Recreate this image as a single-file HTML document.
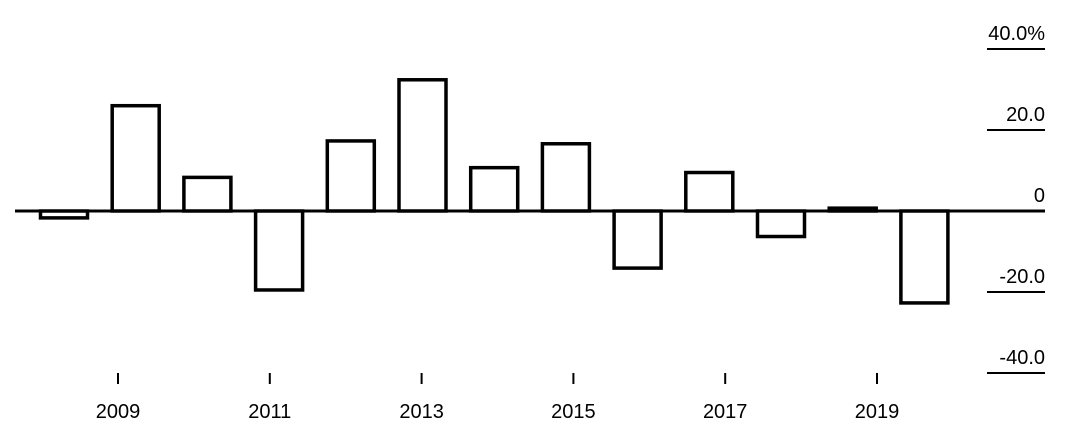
<!DOCTYPE html>
<html><head><meta charset="utf-8"><style>
html,body{margin:0;padding:0;background:#fff;}
svg{display:block;font-family:"Liberation Sans",Arial,sans-serif;}
</style></head><body>
<svg id="chart" width="1080" height="432"></svg>
<script>
const years = [2008,2009,2010,2011,2012,2013,2014,2015,2016,2017,2018,2019,2020];
const values = [-1.7,26.0,8.3,-19.5,17.3,32.4,10.7,16.6,-14.1,9.5,-6.3,0.7,-22.7];
const yTicks = [40,20,0,-20,-40];
const yTickLabels = ["40.0%","20.0","0","-20.0","-40.0"];
const xTickYears = [2009,2011,2013,2015,2017,2019];

const NS = "http://www.w3.org/2000/svg";
const svg = document.getElementById("chart");
function y(v){ return 211 - v*4.05; }
function barX(i){ return 64 + i*71.7; }
function tickX(yr){ return 118 + (yr-2009)*75.9; }
function mk(tag, attrs){ const e=document.createElementNS(NS,tag); for(const k in attrs) e.setAttribute(k,attrs[k]); svg.appendChild(e); return e; }

yTicks.forEach((t,i)=>{
  const l = mk("line",{x1:987,x2:1045,y1:y(t),y2:y(t),stroke:"#000","stroke-width":2});
  
  
  const tx = mk("text",{x:1045,y:y(t)-9,"text-anchor":"end","font-size":20,fill:"#000"});
  tx.textContent = yTickLabels[i];
  
  
});

values.forEach((v,i)=>{
  const cx = barX(i), w = 47;
  const top = Math.min(y(v), y(0)), h = Math.abs(y(v)-y(0));
  const r = mk("rect",{x:cx-w/2,y:top,width:w,height:Math.max(h,1),fill:"#fff",stroke:"#000","stroke-width":3.5});
  
  
});

const zl = mk("line",{x1:15,x2:1045,y1:y(0),y2:y(0),stroke:"#000","stroke-width":3});



xTickYears.forEach(yr=>{
  const x = tickX(yr);
  const l = mk("line",{x1:x,x2:x,y1:373,y2:384,stroke:"#000","stroke-width":2});
  
  
  const tx = mk("text",{x:x,y:418,"text-anchor":"middle","font-size":20,fill:"#000"});
  tx.textContent = yr;
  
  
});
</script>
</body></html>
